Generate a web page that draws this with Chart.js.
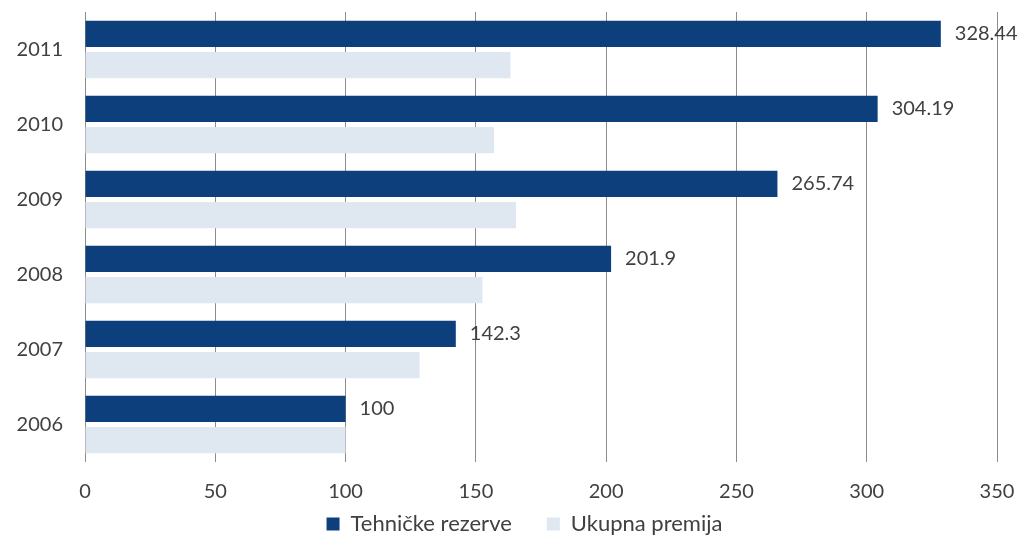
<!DOCTYPE html>
<html>
<head>
<meta charset="utf-8">
<script src="https://cdn.jsdelivr.net/npm/chart.js@4/dist/chart.umd.min.js"></script>
<style>
  html, body { margin: 0; padding: 0; background: #fff; }
  #wrap { width: 1029px; height: 537px; }
</style>
</head>
<body>
<div id="wrap"><canvas id="graph"></canvas></div>
<script>
const years = ['2011', '2010', '2009', '2008', '2007', '2006'];
const rezerve = [328.44, 304.19, 265.74, 201.9, 142.3, 100];
const premija = [163.3, 157, 165.4, 152.5, 128.4, 100];
const rezerveLabels = ['328.44', '304.19', '265.74', '201.9', '142.3', '100'];

const textColor = '#404040';
const fontFamily = 'Lato, "Open Sans", sans-serif';

// value labels at the end of the dark bars
const barLabels = {
    id: 'barLabels',
    afterDatasetsDraw(chart){
        let ctx = chart.ctx;
        let meta = chart.getDatasetMeta(0);
        ctx.save();
        ctx.font = '20px ' + fontFamily;
        ctx.fillStyle = textColor;
        ctx.textAlign = 'left';
        ctx.textBaseline = 'middle';
        for(let i = 0; i < meta.data.length; i++){
            let bar = meta.data[i];
            ctx.fillText(rezerveLabels[i], bar.x + 14, bar.y);
        }
        ctx.restore();
    }
};

// legend padding is also the gap between items, so keep its box small
// and pull it up after layout
const legendPlace = {
    id: 'legendPlace',
    beforeInit(chart){
        const origFit = chart.legend.fit;
        chart.legend.fit = function(){
            origFit.bind(chart.legend)();
            this.height = 30;
        };
    },
    afterLayout(chart){
        let lg = chart.legend;
        lg.top = chart.chartArea.bottom + 16;
        lg.bottom = chart.height;
        lg.height = lg.bottom - lg.top;
        lg.left += 26;
        lg.right += 26;
    }
};

let ctx = document.getElementById('graph');
new Chart(ctx, {
    type: 'bar',
    data: {
        labels: years,
        datasets: [
            {
                label: 'Tehničke rezerve',
                data: rezerve,
                backgroundColor: '#0d3f7d',
                categoryPercentage: 0.83,
                barPercentage: 0.84
            },
            {
                label: 'Ukupna premija',
                data: premija,
                backgroundColor: '#dfe7f1',
                categoryPercentage: 0.83,
                barPercentage: 0.84
            }
        ]
    },
    options: {
        indexAxis: 'y',
        responsive: true,
        maintainAspectRatio: false,
        animation: false,
        layout: { padding: { top: 12, right: 32, bottom: 0, left: 0 } },
        plugins: {
            tooltip: { enabled: false },
            legend: {
                position: 'bottom',
                labels: {
                    color: textColor,
                    font: { family: fontFamily, size: 22 },
                    boxWidth: 13,
                    boxHeight: 13,
                    padding: 35
                }
            }
        },
        scales: {
            x: {
                min: 0,
                max: 350,
                ticks: {
                    stepSize: 50,
                    color: textColor,
                    font: { family: fontFamily, size: 20 },
                    padding: 18
                },
                grid: { color: '#8c8c8c', drawTicks: false },
                border: { display: false },
                afterFit(scale){
                    scale.height = 45;
                    scale.paddingLeft = 0;
                    scale.paddingRight = 0;
                }
            },
            y: {
                ticks: {
                    color: textColor,
                    font: { family: fontFamily, size: 20 },
                    padding: 14
                },
                grid: { display: false },
                border: { display: false },
                afterFit(scale){
                    scale.width = 85;
                    scale.paddingTop = 0;
                    scale.paddingBottom = 0;
                }
            }
        }
    },
    plugins: [barLabels, legendPlace]
});
</script>
</body>
</html>
